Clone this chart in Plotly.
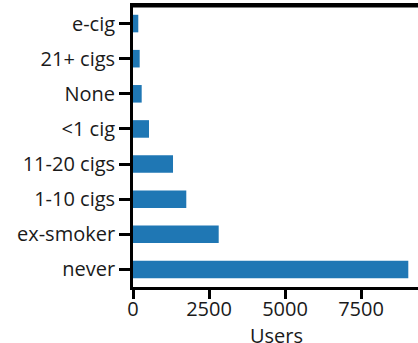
import plotly.graph_objects as go

categories = ["never", "ex-smoker", "1-10 cigs", "11-20 cigs", "<1 cig", "None", "21+ cigs", "e-cig"]
users = [9056, 2819, 1753, 1316, 526, 286, 220, 174]
x_ticks = [0, 2500, 5000, 7500]
x_title = "Users"

fig = go.Figure(go.Bar(
    x=users, y=categories, orientation="h",
    marker=dict(color="#1f77b4", line=dict(width=0)),
    width=0.5,
))

axis_font = dict(family="Open Sans", size=20, color="#1a1a1a")
fig.update_layout(
    width=418, height=343,
    margin=dict(l=133, r=0, t=6, b=56, autoexpand=False),
    plot_bgcolor="white", paper_bgcolor="white",
    showlegend=False,
    font=axis_font,
)
fig.update_xaxes(
    range=[0, 9375], tickvals=x_ticks, ticktext=[str(v) for v in x_ticks],
    showgrid=False, zeroline=False, automargin=False,
    showline=True, linecolor="black", linewidth=2.8, mirror=True,
    ticks="outside", ticklen=9, tickwidth=2.8, tickcolor="black",
    ticklabelstandoff=-7,
    tickfont=axis_font,
)
fig.update_yaxes(
    categoryorder="array", categoryarray=categories,
    range=[-0.5, 7.5], automargin=False,
    showgrid=False, zeroline=False,
    showline=True, linecolor="black", linewidth=2.8, mirror=False,
    ticks="outside", ticklen=11, tickwidth=2.8, tickcolor="black",
    tickfont=axis_font,
)
# top spine of the axes box
fig.add_shape(
    type="line", xref="paper", yref="paper", x0=-0.005, x1=1, y0=1, y1=1,
    line=dict(color="black", width=3), layer="above",
)
fig.add_annotation(
    text=x_title, xref="paper", yref="paper", x=0.504, y=-0.172,
    xanchor="center", yanchor="middle", showarrow=False, font=axis_font,
)
fig.write_html(
    "out.html",
    config={"displayModeBar": False},
    post_script="document.body.style.margin='0';document.body.style.overflow='hidden';window.scrollTo(0,0);",
)
